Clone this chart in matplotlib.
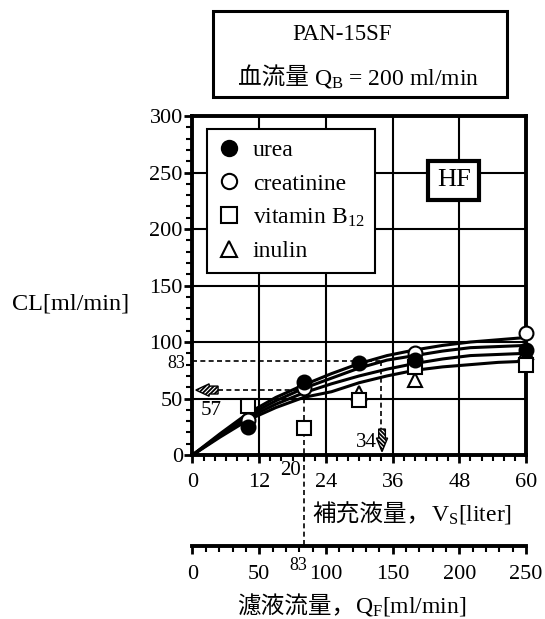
import matplotlib
matplotlib.use("Agg")
import matplotlib.pyplot as plt
import matplotlib.patches as mpatches
from matplotlib.lines import Line2D

plt.rcParams['font.family'] = ['Liberation Serif', 'Noto Sans CJK JP']
plt.rcParams['mathtext.fontset'] = 'custom'
plt.rcParams['mathtext.rm'] = 'Liberation Serif'
plt.rcParams['mathtext.it'] = 'Liberation Serif'
plt.rcParams['hatch.linewidth'] = 1.3

# fitted curves
curve_x = [0, 5, 10, 15, 20, 25, 30, 35, 40, 45, 50, 55, 60]
curve_creatinine = [0, 19, 37, 51, 62, 72, 81, 88, 93, 97, 100, 102, 104]
curve_urea = [0, 18, 35, 48, 59, 68, 77, 84, 88, 92, 95, 96, 97]
curve_inulin = [0, 17, 33, 45, 55, 63, 70, 76, 81, 85, 88, 89, 90]
curve_b12 = [0, 16, 31, 42, 51, 56, 64, 70, 75, 78, 80, 82, 83]

# measured points
urea_x = [10, 20, 30, 40, 60]
urea_y = [25, 65, 81, 84, 93]
creat_x = [10, 20, 40, 60]
creat_y = [31, 59, 90, 108]
b12_x = [10, 20, 30, 40, 60]
b12_y = [43, 24, 49, 78, 80]
inulin_x = [30, 40, 60]
inulin_y = [55, 66, 91]

yticks = [0, 50, 100, 150, 200, 250, 300]
xticks = [0, 12, 24, 36, 48, 60]
qf_ticks = [0, 50, 100, 150, 200, 250]

FS = 16

fig = plt.figure(figsize=(5.45, 6.19), dpi=100)
ax = fig.add_axes([0.3532, 0.2649, 0.6119, 0.5477])

ax.set_xlim(0, 60)
ax.set_ylim(0, 300)
ax.set_xticks(xticks)
ax.set_yticks(yticks)
ax.set_xticks(range(0, 61, 2), minor=True)
ax.set_yticks(range(0, 301, 10), minor=True)
ax.tick_params(which='major', direction='out', length=6, width=2, labelsize=FS)
ax.tick_params(which='minor', direction='out', length=4, width=1.5)
ax.tick_params(axis='x', pad=7)
ax.tick_params(axis='y', pad=1)
for s in ax.spines.values():
    s.set_linewidth(2.8)
ax.grid(True, which='major', color='black', lw=1.5)
ax.set_axisbelow(True)

for cy in (curve_creatinine, curve_urea, curve_inulin, curve_b12):
    ax.plot(curve_x, cy, color='black', lw=2.2, zorder=3)

mk = dict(ls='none', ms=10, mec='black', mew=1.5, zorder=4, clip_on=False)
ax.plot(inulin_x, inulin_y, marker='^', mfc='white', **mk)
ax.plot(b12_x, b12_y, marker='s', mfc='white', **mk)
ax.plot(creat_x, creat_y, marker='o', mfc='white', **mk)
ax.plot(urea_x, urea_y, marker='o', mfc='black', **mk)

# dashed guides
dash = dict(color='black', lw=1.2, ls=(0, (3, 2)), zorder=2)
ax.plot([0, 34], [83, 83], **dash)
ax.plot([34, 34], [83, 22], **dash)
ax.plot([4.6, 20], [57.5, 57.5], **dash)
y_bot = ax.transData.inverted().transform(
    fig.transFigure.transform((0, 0.1179)))[1]
ax.plot([20, 20], [57.5, y_bot], clip_on=False, **dash)

ax.add_patch(mpatches.FancyArrow(4.6, 57.5, -4.0, 0, width=7, head_width=11,
                                 head_length=2.4, length_includes_head=True,
                                 facecolor='white', edgecolor='black', lw=1,
                                 hatch='////////', zorder=5))
ax.add_patch(mpatches.FancyArrow(34.1, 23, 0, -20, width=1.2, head_width=2.0,
                                 head_length=12, length_includes_head=True,
                                 facecolor='white', edgecolor='black', lw=1,
                                 hatch='\\\\\\\\\\\\\\\\', zorder=5))

ax.text(3.3, 39, '57', fontsize=15, ha='center', va='center')
ax.text(31.3, 11.5, '34', fontsize=15, ha='center', va='center')
ax.text(-1.3, 81, '83', fontsize=13, ha='right', va='center', clip_on=False)
ax.text(17.6, -13.3, '20', fontsize=15, ha='center', va='center', clip_on=False)

# HF box
ax.text(47, 243, 'HF', fontsize=19, ha='center', va='center', zorder=6,
        bbox=dict(boxstyle='square,pad=0.33', fc='white', ec='black', lw=3))

# legend
handles = [
    Line2D([], [], marker='o', ls='none', ms=11, mfc='black', mec='black', mew=1.5),
    Line2D([], [], marker='o', ls='none', ms=11, mfc='white', mec='black', mew=1.5),
    Line2D([], [], marker='s', ls='none', ms=11, mfc='white', mec='black', mew=1.5),
    Line2D([], [], marker='^', ls='none', ms=11, mfc='white', mec='black', mew=1.5),
]
labels = ['urea', 'creatinine', r'vitamin B$_{\mathrm{12}}$', 'inulin']
leg = ax.legend(handles, labels, loc='upper left', bbox_to_anchor=(0.0426, 0.961),
                fontsize=17, frameon=True, fancybox=False, framealpha=1,
                edgecolor='black', handlelength=1.0, handletextpad=0.5,
                labelspacing=0.5, borderpad=0.45, borderaxespad=0)
leg.get_frame().set_linewidth(1.5)
leg.set_zorder(7)

ax.text(-0.541, 0.445, 'CL[ml/min]', transform=ax.transAxes, fontsize=17.5,
        ha='left', va='center')

# 補充液量 label
fig.text(0.79, 1 - 521 / 619, '補充液量，', fontsize=17, ha='right',
         va='baseline', family='Noto Sans CJK JP')
fig.text(0.79, 1 - 521 / 619, r'V$_{\mathrm{S}}$[liter]', fontsize=17,
         ha='left', va='baseline')

# second (Q_F) axis
ax2 = fig.add_axes([0.3532, 0.1179, 0.6119, 0.0001])
ax2.set_xlim(0, 250)
ax2.set_ylim(0, 1)
ax2.patch.set_visible(False)
for k in ('left', 'right', 'top'):
    ax2.spines[k].set_visible(False)
ax2.spines['bottom'].set_linewidth(2.8)
ax2.set_yticks([])
ax2.set_xticks(qf_ticks)
ax2.set_xticks(range(0, 251, 10), minor=True)
ax2.tick_params(which='major', direction='out', length=6, width=2,
                labelsize=FS, pad=8)
ax2.tick_params(which='minor', direction='out', length=4, width=1.5)

fig.text(298.5 / 545, 1 - 565 / 619, '83', fontsize=13, ha='center', va='center')

fig.text(0.651, 1 - 613 / 619, '濾液流量，', fontsize=17, ha='right',
         va='baseline', family='Noto Sans CJK JP')
fig.text(0.651, 1 - 613 / 619, r'Q$_{\mathrm{F}}$[ml/min]', fontsize=17,
         ha='left', va='baseline')

# title box
fig.patches.append(mpatches.Rectangle((213 / 545, 1 - 97 / 619), 294 / 545, 86 / 619,
                                      transform=fig.transFigure, fill=False,
                                      ec='black', lw=2.2))
fig.text(342 / 545, 1 - 40 / 619, 'PAN-15SF', fontsize=16.5, ha='center', va='baseline')
fig.text(314 / 545, 1 - 84 / 619, '血流量 ', fontsize=17, ha='right',
         va='baseline', family='Noto Sans CJK JP')
fig.text(314 / 545, 1 - 84 / 619, r'Q$_{\mathrm{B}}$ = 200 ml/min', fontsize=17,
         ha='left', va='baseline')

fig.savefig('out.png', dpi=100)
